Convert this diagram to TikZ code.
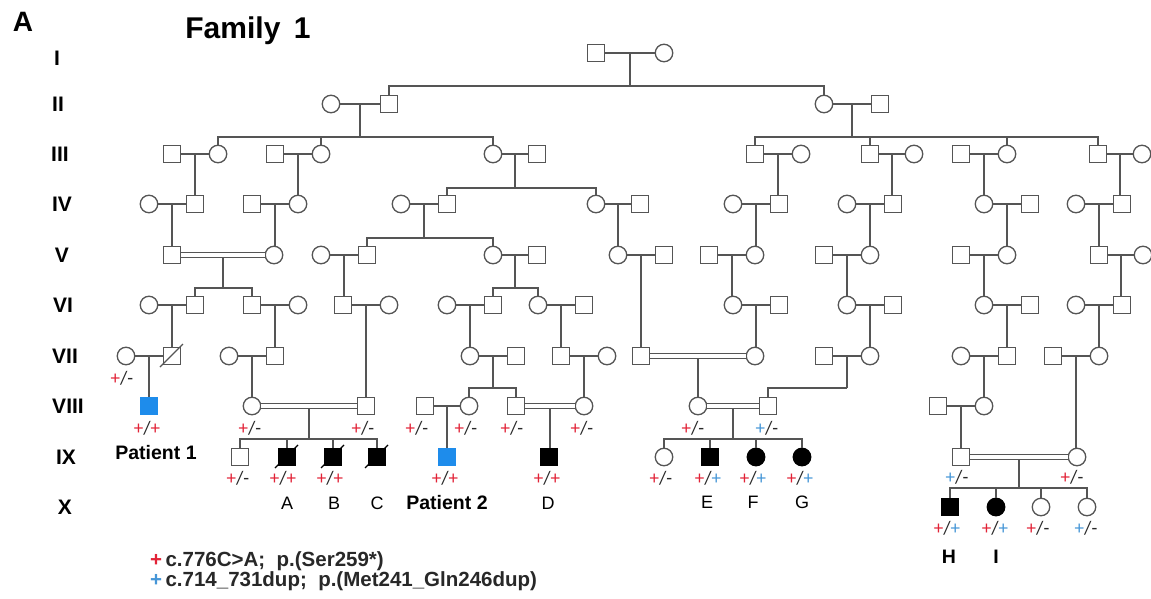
\documentclass[tikz,border=0pt]{standalone}
\usepackage{fontspec}
\setmainfont{Liberation Sans}
\newfontfamily\calfont{Carlito}
\usetikzlibrary{calc}
\definecolor{lc}{RGB}{85,85,85}
\definecolor{gred}{RGB}{226,35,55}
\definecolor{gblue}{RGB}{70,150,215}
\definecolor{pblue}{RGB}{30,140,235}
\definecolor{gk}{RGB}{40,40,40}
\tikzset{
 pl/.style={draw=lc,line width=1.4pt},
 dbl/.style={draw=lc,line width=1.3pt,double=white,double distance=4pt},
 male/.style={rectangle,draw=lc,line width=1.3pt,fill=white,minimum size=17pt,inner sep=0pt},
 female/.style={circle,draw=lc,line width=1.3pt,fill=white,minimum size=17.5pt,inner sep=0pt},
 aff/.style={fill=black,draw=black},
 pat/.style={fill=pblue,draw=pblue},
 geno/.style={inner sep=0pt,font=\calfont\fontsize{19}{19}\selectfont},
 gen/.style={inner sep=0pt,font=\bfseries\fontsize{21}{21}\selectfont},
 lett/.style={inner sep=0pt,font=\fontsize{18}{18}\selectfont},
 lettb/.style={inner sep=0pt,font=\bfseries\fontsize{19.5}{19.5}\selectfont},
 legd/.style={inner sep=0pt,anchor=west,text=gk,font=\bfseries\fontsize{20.5}{20.5}\selectfont},
}
\newcommand\M[3][]{\node[male,#1] (#2) at (#3) {};}
\newcommand\F[3][]{\node[female,#1] (#2) at (#3) {};}
\newcommand\cpl[3]{\coordinate (#3) at ($(#1)!0.5!(#2)$);}
\newcommand\mar[2]{\draw[pl] (#1) -- (#2);}
\newcommand\dmar[2]{\draw[dbl] (#1) -- (#2);}
\newcommand\kid[2]{\draw[pl] (#1) -- (#1 |- #2.north);}
\newcommand\sib[3]{\draw[pl] (#1) -- (#1 |- #2);
  \foreach \ch in {#3} {\draw[pl] (#1 |- #2) -| (\ch.north);}}
\newcommand\dead[2][lc]{\draw[draw=#1,line width=1.3pt] ($(#2)+(-12,11)$) -- ($(#2)+(11,-12)$);}
\newcommand\grn{\textcolor{gred}{+}\textcolor{gk}{/-}}
\newcommand\gbn{\textcolor{gblue}{+}\textcolor{gk}{/-}}
\newcommand\grr{\textcolor{gred}{+}\textcolor{gk}{/}\textcolor{gred}{+}}
\newcommand\grb{\textcolor{gred}{+}\textcolor{gk}{/}\textcolor{gblue}{+}}
\begin{document}
\begin{tikzpicture}[x=1pt,y=-1pt]
\path[use as bounding box] (0,0) rectangle (1151,599);
\fill[white] (0,0) rectangle (1151,599);
% sibship heights
\coordinate (y86) at (0,86);
\coordinate (y137) at (0,137);
\coordinate (y188) at (0,188);
\coordinate (y238) at (0,238);
\coordinate (y288) at (0,288);
\coordinate (y388) at (0,388);
\coordinate (y439) at (0,439);
\coordinate (y488) at (0,488);
% Row I
\M{I1}{596,53} \F{I2}{664,53}
% Row II
\F{II1}{331,104} \M{II2}{389,104} \F{II3}{824,104} \M{II4}{880,104}
% Row III
\M{III1}{172,154} \F{III2}{218,154} \M{III3}{275,154} \F{III4}{321,154}
\F{III5}{493,154} \M{III6}{537,154} \M{III7}{755,154} \F{III8}{801,154}
\M{III9}{870,154} \F{III10}{914,154} \M{III11}{961,154} \F{III12}{1007,154}
\M{III13}{1098,154} \F{III14}{1142,154}
% Row IV
\F{IV1}{149,204} \M{IV2}{195,204} \M{IV3}{252,204} \F{IV4}{298,204}
\F{IV5}{401,204} \M{IV6}{447,204} \F{IV7}{596,204} \M{IV8}{640,204}
\F{IV9}{733,204} \M{IV10}{779,204} \F{IV11}{847,204} \M{IV12}{893,204}
\F{IV13}{984,204} \M{IV14}{1030,204} \F{IV15}{1076,204} \M{IV16}{1122,204}
% Row V
\M{V1}{172,255} \F{V2}{274,255} \F{V3}{321,255} \M{V4}{367,255}
\F{V5}{493,255} \M{V6}{537,255} \F{V7}{618,255} \M{V8}{664,255}
\M{V9}{709,255} \F{V10}{755,255} \M{V11}{824,255} \F{V12}{870,255}
\M{V13}{961,255} \F{V14}{1007,255} \M{V15}{1099,255} \F{V16}{1143,255}
% Row VI
\F{VI1}{149,305} \M{VI2}{195,305} \M{VI3}{252,305} \F{VI4}{298,305}
\M{VI5}{343,305} \F{VI6}{389,305} \F{VI7}{447,305} \M{VI8}{493,305}
\F{VI9}{538,305} \M{VI10}{584,305} \F{VI11}{733,305} \M{VI12}{779,305}
\F{VI13}{847,305} \M{VI14}{893,305} \F{VI15}{984,305} \M{VI16}{1030,305}
\F{VI17}{1076,305} \M{VI18}{1122,305}
% Row VII
\F{VII1}{126,356} \M{VII2}{172,356} \F{VII3}{229,356} \M{VII4}{275,356}
\F{VII5}{470,356} \M{VII6}{516,356} \M{VII7}{561,356} \F{VII8}{607,356}
\M{VII9}{641,356} \F{VII10}{755,356} \M{VII11}{824,356} \F{VII12}{870,356}
\F{VII13}{961,356} \M{VII14}{1007,356} \M{VII15}{1053,356} \F{VII16}{1099,356}
% Row VIII
\M[pat]{VIII1}{149,406} \F{VIII2}{252,406} \M{VIII3}{366,406}
\M{VIII4}{425,406} \F{VIII5}{469,406} \M{VIII6}{516,406} \F{VIII7}{584,406}
\F{VIII8}{698,406} \M{VIII9}{768,406} \M{VIII10}{938,406} \F{VIII11}{984,406}
% Row IX
\M{IX1}{240,457} \M[aff]{IX2}{287,457} \M[aff]{IX3}{333,457} \M[aff]{IX4}{377,457}
\M[pat]{IX5}{447,457} \M[aff]{IX6}{549,457}
\F{IX7}{664,457} \M[aff]{IX8}{710,457} \F[aff]{IX9}{756,457} \F[aff]{IX10}{802,457}
\M{IX11}{961,457} \F{IX12}{1077,457}
% Row X
\M[aff]{X1}{950,507} \F[aff]{X2}{996,507} \F{X3}{1041,507} \F{X4}{1087,507}
% couples
\cpl{I1}{I2}{cI}
\cpl{II1}{II2}{cIIa} \cpl{II3}{II4}{cIIb}
\cpl{III1}{III2}{cIIIa} \cpl{III3}{III4}{cIIIb} \cpl{III5}{III6}{cIIIc}
\cpl{III7}{III8}{cIIId} \cpl{III9}{III10}{cIIIe} \cpl{III11}{III12}{cIIIf}
\cpl{III13}{III14}{cIIIg}
\cpl{IV1}{IV2}{cIVa} \cpl{IV3}{IV4}{cIVb} \cpl{IV5}{IV6}{cIVc} \cpl{IV7}{IV8}{cIVd}
\cpl{IV9}{IV10}{cIVe} \cpl{IV11}{IV12}{cIVf} \cpl{IV13}{IV14}{cIVg} \cpl{IV15}{IV16}{cIVh}
\cpl{V1}{V2}{cVa} \cpl{V3}{V4}{cVb} \cpl{V5}{V6}{cVc} \cpl{V7}{V8}{cVd}
\cpl{V9}{V10}{cVe} \cpl{V11}{V12}{cVf} \cpl{V13}{V14}{cVg} \cpl{V15}{V16}{cVh}
\cpl{VI1}{VI2}{cVIa} \cpl{VI3}{VI4}{cVIb} \cpl{VI5}{VI6}{cVIc} \cpl{VI7}{VI8}{cVId}
\cpl{VI9}{VI10}{cVIe} \cpl{VI11}{VI12}{cVIf} \cpl{VI13}{VI14}{cVIg}
\cpl{VI15}{VI16}{cVIh} \cpl{VI17}{VI18}{cVIi}
\cpl{VII1}{VII2}{cVIIa} \cpl{VII3}{VII4}{cVIIb} \cpl{VII5}{VII6}{cVIIc}
\cpl{VII7}{VII8}{cVIId} \cpl{VII9}{VII10}{cVIIe} \cpl{VII11}{VII12}{cVIIf}
\cpl{VII13}{VII14}{cVIIg} \cpl{VII15}{VII16}{cVIIh}
\cpl{VIII2}{VIII3}{cVIIIa} \cpl{VIII4}{VIII5}{cVIIIb} \cpl{VIII6}{VIII7}{cVIIIc}
\cpl{VIII8}{VIII9}{cVIIId} \cpl{VIII10}{VIII11}{cVIIIe}
\cpl{IX11}{IX12}{cIX}
% descent lines
\sib{cI}{y86}{II2,II3}
\sib{cIIa}{y137}{III2,III4,III5}
\sib{cIIb}{y137}{III7,III9,III12,III13}
\kid{cIIIa}{IV2} \kid{cIIIb}{IV4} \sib{cIIIc}{y188}{IV6,IV7}
\kid{cIIId}{IV10} \kid{cIIIe}{IV12} \kid{cIIIf}{IV13} \kid{cIIIg}{IV16}
\kid{cIVa}{V1} \kid{cIVb}{V2} \sib{cIVc}{y238}{V4,V5} \kid{cIVd}{V7}
\kid{cIVe}{V10} \kid{cIVf}{V12} \kid{cIVg}{V14} \kid{cIVh}{V15}
\sib{cVa}{y288}{VI2,VI3} \kid{cVb}{VI5} \sib{cVc}{y288}{VI8,VI9} \kid{cVd}{VII9}
\kid{cVe}{VI11} \kid{cVf}{VI13} \kid{cVg}{VI15} \kid{cVh}{VI18}
\kid{cVIa}{VII2} \kid{cVIb}{VII4} \kid{cVIc}{VIII3} \kid{cVId}{VII5}
\kid{cVIe}{VII7} \kid{cVIf}{VII10} \kid{cVIg}{VII12} \kid{cVIh}{VII14} \kid{cVIi}{VII16}
\kid{cVIIa}{VIII1} \kid{cVIIb}{VIII2} \sib{cVIIc}{y388}{VIII5,VIII6}
\kid{cVIId}{VIII7} \kid{cVIIe}{VIII8} \sib{cVIIf}{y388}{VIII9}
\kid{cVIIg}{VIII11} \kid{cVIIh}{IX12}
\sib{cVIIIa}{y439}{IX1,IX2,IX3,IX4} \kid{cVIIIb}{IX5} \kid{cVIIIc}{IX6}
\sib{cVIIId}{y439}{IX7,IX8,IX9,IX10} \kid{cVIIIe}{IX11}
\sib{cIX}{y488}{X1,X2,X3,X4}
% marriage lines
\mar{I1}{I2}
\mar{II1}{II2} \mar{II3}{II4}
\mar{III1}{III2} \mar{III3}{III4} \mar{III5}{III6} \mar{III7}{III8}
\mar{III9}{III10} \mar{III11}{III12} \mar{III13}{III14}
\mar{IV1}{IV2} \mar{IV3}{IV4} \mar{IV5}{IV6} \mar{IV7}{IV8}
\mar{IV9}{IV10} \mar{IV11}{IV12} \mar{IV13}{IV14} \mar{IV15}{IV16}
\dmar{V1}{V2} \mar{V3}{V4} \mar{V5}{V6} \mar{V7}{V8}
\mar{V9}{V10} \mar{V11}{V12} \mar{V13}{V14} \mar{V15}{V16}
\mar{VI1}{VI2} \mar{VI3}{VI4} \mar{VI5}{VI6} \mar{VI7}{VI8} \mar{VI9}{VI10}
\mar{VI11}{VI12} \mar{VI13}{VI14} \mar{VI15}{VI16} \mar{VI17}{VI18}
\mar{VII1}{VII2} \mar{VII3}{VII4} \mar{VII5}{VII6} \mar{VII7}{VII8}
\dmar{VII9}{VII10} \mar{VII11}{VII12} \mar{VII13}{VII14} \mar{VII15}{VII16}
\dmar{VIII2}{VIII3} \mar{VIII4}{VIII5} \dmar{VIII6}{VIII7} \dmar{VIII8}{VIII9}
\mar{VIII10}{VIII11}
\dmar{IX11}{IX12}
% deceased
\dead{VII2} \dead[black]{IX2} \dead[black]{IX3} \dead[black]{IX4}
% generation labels
\node[gen] (gI) at (57,58) {I};
\node[gen] (gII) at (58,104) {II};
\node[gen] (gIII) at (60,154) {III};
\node[gen] (gIV) at (62,204) {IV};
\node[gen] (gV) at (62,255) {V};
\node[gen] (gVI) at (63,305) {VI};
\node[gen] (gVII) at (65,356) {VII};
\node[gen] (gVIII) at (68,406) {VIII};
\node[gen] (gIX) at (66,457) {IX};
\node[gen] (gX) at (65,507) {X};
% titles
\node[inner sep=0pt,font=\bfseries\fontsize{28}{28}\selectfont] (panel) at (23,22) {A};
\node[inner sep=0pt,font=\bfseries\fontsize{30}{30}\selectfont] (title) at (248,31) {Family\hspace{0.45em}1};
% genotypes
\node[geno] (g1) at (122,378) {\grn};
\node[geno] (g2) at (147,428) {\grr};
\node[geno] (g3) at (250,428) {\grn};
\node[geno] (g4) at (363,428) {\grn};
\node[geno] (g5) at (417,428) {\grn};
\node[geno] (g6) at (466,428) {\grn};
\node[geno] (g7) at (512,428) {\grn};
\node[geno] (g8) at (582,428) {\grn};
\node[geno] (g9) at (693,428) {\grn};
\node[geno] (g10) at (767,428) {\gbn};
\node[geno] (g11) at (238,478) {\grn};
\node[geno] (g12) at (283,478) {\grr};
\node[geno] (g13) at (330,478) {\grr};
\node[geno] (g14) at (445,478) {\grr};
\node[geno] (g15) at (547,478) {\grr};
\node[geno] (g16) at (661,478) {\grn};
\node[geno] (g17) at (708,478) {\grb};
\node[geno] (g18) at (753,478) {\grb};
\node[geno] (g19) at (800,478) {\grb};
\node[geno] (g20) at (957,477) {\gbn};
\node[geno] (g21) at (1072,477) {\grn};
\node[geno] (g22) at (947,528) {\grb};
\node[geno] (g23) at (995,528) {\grb};
\node[geno] (g24) at (1038,528) {\grn};
\node[geno] (g25) at (1086,528) {\gbn};
% names
\node[lettb] (p1) at (156,453) {Patient 1};
\node[lett] (nA) at (287,503) {A};
\node[lett] (nB) at (334,503) {B};
\node[lett] (nC) at (377,503) {C};
\node[lettb] (p2) at (447,503) {Patient 2};
\node[lett] (nD) at (548,503) {D};
\node[lett] (nE) at (707,502) {E};
\node[lett] (nF) at (753,502) {F};
\node[lett] (nG) at (802,502) {G};
\node[lettb] (nH) at (949,557) {H};
\node[lettb] (nI) at (996,557) {I};
% legend
\node[legd] (leg1) at (150,561) {\textcolor{gred}{+}\,c.776C>A;\ \ p.(Ser259*)};
\node[legd] (leg2) at (150,581) {\textcolor{gblue}{+}\,c.714\_731dup;\ \ p.(Met241\_Gln246dup)};
\end{tikzpicture}
\end{document}
